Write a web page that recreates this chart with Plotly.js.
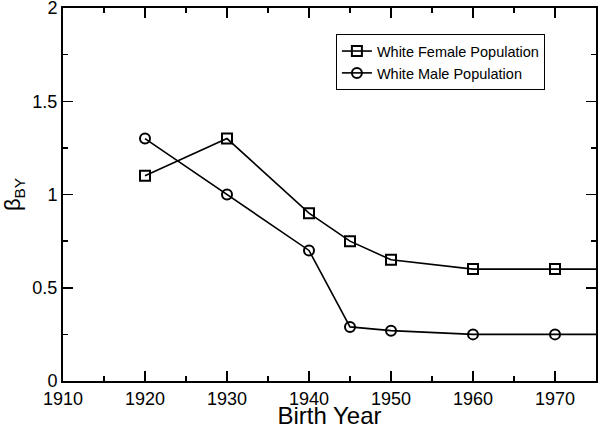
<!DOCTYPE html>
<html>
<head>
<meta charset="utf-8">
<script src="https://cdn.plot.ly/plotly-3.0.1.min.js"></script>
<style>
  html, body { margin: 0; padding: 0; background: #fff; }
  #plot { width: 600px; height: 429px; }
</style>
</head>
<body>
<div id="plot"></div>
<script>
// Birth year cohorts (last point lies past the axis end so the line runs to the edge)
const years = [1920, 1930, 1940, 1945, 1950, 1960, 1970, 1980];
const femaleBeta = [1.1, 1.3, 0.9, 0.75, 0.65, 0.6, 0.6, 0.6];
const maleBeta = [1.3, 1.0, 0.7, 0.29, 0.27, 0.25, 0.25, 0.25];
const seriesNames = ['White Female Population', 'White Male Population'];

const font = 'Liberation Sans, Arial, sans-serif';

function series(y, name, symbol) {
  return {
    x: years,
    y: y,
    type: 'scatter',
    mode: 'lines+markers',
    name: name,
    line: { color: '#000', width: 1.6 },
    marker: { symbol: symbol, size: 10, color: '#000', line: { color: '#000', width: 2 } }
  };
}

const traces = [
  series(femaleBeta, seriesNames[0], 'square-open'),
  series(maleBeta, seriesNames[1], 'circle-open')
];

// ticks inside, repeated on the top and right edges
const axisCommon = {
  showgrid: false,
  zeroline: false,
  showline: true,
  linecolor: '#000',
  linewidth: 2,
  mirror: 'allticks',
  ticks: 'inside',
  ticklen: 10,
  tickwidth: 1.5,
  tickcolor: '#000',
  ticklabeloverflow: 'allow',
  tickfont: { family: font, size: 18, color: '#000' }
};

const layout = {
  width: 600,
  height: 429,
  margin: { l: 63, r: 4, t: 8, b: 48 },
  paper_bgcolor: '#fff',
  plot_bgcolor: '#fff',
  showlegend: true,
  xaxis: Object.assign({}, axisCommon, {
    range: [1910, 1975],
    dtick: 10,
    minor: { dtick: 5, ticks: 'inside', ticklen: 5, tickcolor: '#000' },
    title: { text: 'Birth Year', font: { family: font, size: 24, color: '#000' } }
  }),
  yaxis: Object.assign({}, axisCommon, {
    range: [0, 2],
    dtick: 0.5,
    minor: { dtick: 0.25, ticks: 'inside', ticklen: 5, tickcolor: '#000' },
    title: { text: 'β<sub>BY</sub>', font: { family: font, size: 22, color: '#000' } }
  }),
  legend: {
    x: 0.512,
    y: 0.93,
    xanchor: 'left',
    yanchor: 'top',
    bgcolor: '#fff',
    bordercolor: '#000',
    borderwidth: 1,
    font: { family: font, size: 14.5, color: '#000' }
  }
};

Plotly.newPlot('plot', traces, layout, { displayModeBar: false, staticPlot: true });
</script>
</body>
</html>
